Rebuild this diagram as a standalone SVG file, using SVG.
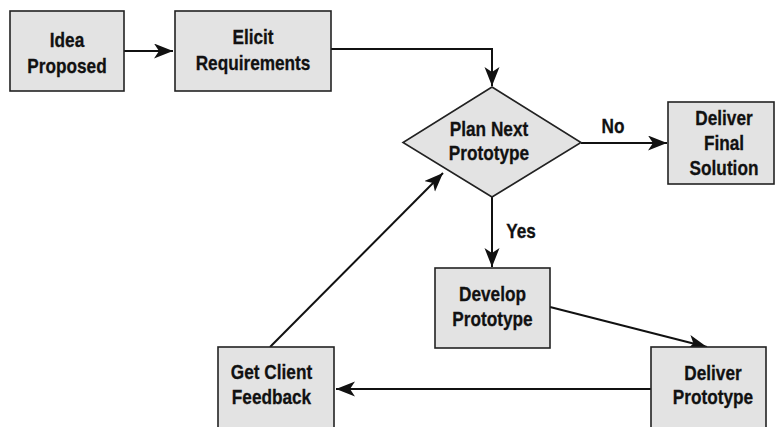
<svg xmlns="http://www.w3.org/2000/svg" width="775" height="427" viewBox="0 0 775 427">
<style>
.box{fill:#e3e3e3;stroke:#222;stroke-width:1.6}
.t{font-family:"Liberation Sans",Arial,sans-serif;font-weight:bold;font-size:21px;fill:#111;stroke:#111;stroke-width:0.3;text-anchor:middle}
.c{fill:none;stroke:#111;stroke-width:2}
</style>
<defs>
<marker id="ah" markerUnits="userSpaceOnUse" markerWidth="22" markerHeight="16" refX="19" refY="7.5" orient="auto">
<path d="M0,0 L19,7.5 L0,15 L5,7.5 z" fill="#111"/>
</marker>
</defs>
<rect width="775" height="427" fill="#fff"/>
<g id="connectors">
<line class="c" x1="124" y1="51" x2="173" y2="51" marker-end="url(#ah)"/>
<path class="c" d="M331,49 H492 V86" marker-end="url(#ah)"/>
<line class="c" x1="581" y1="143" x2="667" y2="143" marker-end="url(#ah)"/>
<line class="c" x1="492" y1="197" x2="492" y2="267" marker-end="url(#ah)"/>
<line class="c" x1="550" y1="307" x2="707" y2="347" marker-end="url(#ah)"/>
<line class="c" x1="651" y1="389" x2="336" y2="389" marker-end="url(#ah)"/>
<line class="c" x1="270" y1="347" x2="443" y2="173" marker-end="url(#ah)"/>
<g transform="translate(613,133) scale(0.82,1)"><text class="t" x="0" y="0">No</text></g>
<g transform="translate(521,238) scale(0.82,1)"><text class="t" x="0" y="0">Yes</text></g>
</g>
<g id="idea">
<rect class="box" x="10" y="11" width="114" height="80"/>
<g transform="translate(67,0) scale(0.82,1)"><text class="t" x="0" y="47.5">Idea</text><text class="t" x="0" y="72.5">Proposed</text></g>
</g>
<g id="elicit">
<rect class="box" x="175" y="11" width="156" height="80"/>
<g transform="translate(253,0) scale(0.82,1)"><text class="t" x="0" y="44.5">Elicit</text><text class="t" x="0" y="70">Requirements</text></g>
</g>
<g id="plan">
<polygon class="box" points="492,87 581,142.5 492,197 403,142.5"/>
<g transform="translate(489,0) scale(0.82,1)"><text class="t" x="0" y="136">Plan Next</text><text class="t" x="0" y="160">Prototype</text></g>
</g>
<g id="final">
<rect class="box" x="668" y="102" width="106" height="82"/>
<g transform="translate(724,0) scale(0.82,1)"><text class="t" x="0" y="125">Deliver</text><text class="t" x="0" y="150">Final</text><text class="t" x="0" y="175">Solution</text></g>
</g>
<g id="develop">
<rect class="box" x="435" y="268" width="115" height="80"/>
<g transform="translate(492.5,0) scale(0.82,1)"><text class="t" x="0" y="301">Develop</text><text class="t" x="0" y="326">Prototype</text></g>
</g>
<g id="deliverproto">
<rect class="box" x="651" y="347" width="115" height="82"/>
<g transform="translate(713,0) scale(0.82,1)"><text class="t" x="0" y="380">Deliver</text><text class="t" x="0" y="404">Prototype</text></g>
</g>
<g id="feedback">
<rect class="box" x="218" y="347" width="116" height="82"/>
<g transform="translate(271.5,0) scale(0.82,1)"><text class="t" x="0" y="379">Get Client</text><text class="t" x="0" y="404">Feedback</text></g>
</g>
</svg>
